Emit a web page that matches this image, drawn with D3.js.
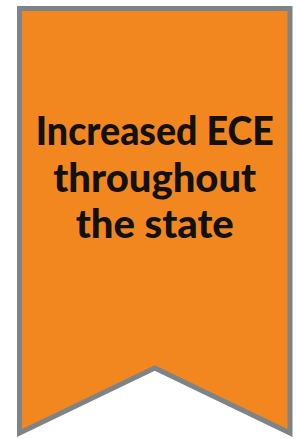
<!DOCTYPE html>
<html lang="en">

<head>
  <meta charset="UTF-8">
  <title>Banner</title>
  <script src="https://d3js.org/d3.v7.min.js"></script>
  <style>
    body {
      margin: 0;
      background-color: #fff;
    }

    svg {
      display: block;
    }
  </style>
</head>

<body>
  <svg></svg>
  <script>
    // banner outline in unit space (0..1), notch at the bottom
    const outlineX = [0, 1, 1, 0.5, 0];
    const outlineY = [0, 0, 1, 0.847, 1];
    const lines = ["Increased ECE", "throughout", "the state"];

    const width = 296, height = 439;
    const svg = d3.select("svg").attr("width", width).attr("height", height);

    const x = d3.scaleLinear().domain([0, 1]).range([19.5, 290]);
    const y = d3.scaleLinear().domain([0, 1]).range([8.5, 433]);

    const line = d3.line().x(d => x(d[0])).y(d => y(d[1])).curve(d3.curveLinearClosed);

    svg.append("path")
      .datum(d3.zip(outlineX, outlineY))
      .attr("d", line)
      .attr("fill", "#F3871F")
      .attr("stroke", "#7D8387")
      .attr("stroke-width", 5)
      .attr("stroke-linejoin", "miter");

    // text lines
    const ty = d3.scalePoint().domain(lines).range([145, 238]);

    svg.selectAll("text.label")
      .data(lines)
      .join("text")
      .attr("class", "label")
      .attr("x", x(0.5))
      .attr("y", d => ty(d))
      .attr("text-anchor", "middle")
      .attr("font-family", "Lato, sans-serif")
      .attr("font-weight", 900)
      .attr("font-size", 40)
      .attr("fill", "#111")
      .text(d => d)
      .each(function (d, i) {
        if (i === 0) {
          d3.select(this).attr("textLength", 238).attr("lengthAdjust", "spacingAndGlyphs");
        }
      });
  </script>
</body>

</html>
